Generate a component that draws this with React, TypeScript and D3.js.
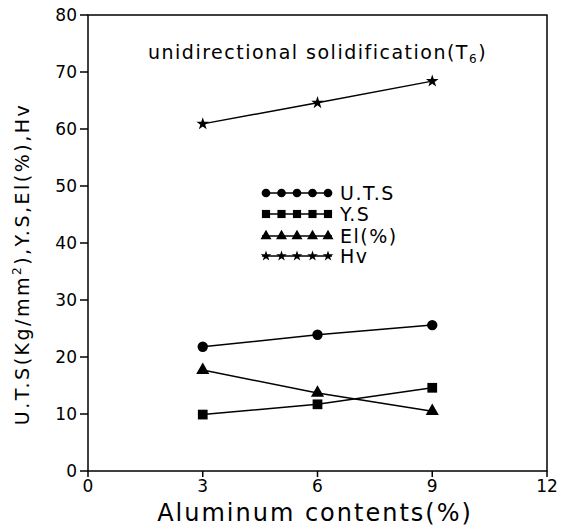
import * as d3 from "d3";

const aluminum = [3, 6, 9];
const uts = [21.8, 23.9, 25.6];
const ys = [9.9, 11.7, 14.6];
const el = [17.7, 13.7, 10.5];
const hv = [60.9, 64.6, 68.4];

const xTicks = [0, 3, 6, 9, 12];
const yTicks = [0, 10, 20, 30, 40, 50, 60, 70, 80];
const seriesNames = ["U.T.S", "Y.S", "El(%)", "Hv"];

type Series = { name: string; values: number[]; symbol: d3.SymbolType; size: number };

const series: Series[] = [
  { name: seriesNames[0], values: uts, symbol: d3.symbolCircle, size: 85 },
  { name: seriesNames[1], values: ys, symbol: d3.symbolSquare, size: 95 },
  { name: seriesNames[2], values: el, symbol: d3.symbolTriangle, size: 75 },
  { name: seriesNames[3], values: hv, symbol: d3.symbolStar, size: 50 },
];

const font = "'DejaVu Sans', sans-serif";

export default function App() {
  const width = 569;
  const height = 527;
  const margin = { top: 15, right: 22, bottom: 56, left: 88 };

  const x = d3.scaleLinear().domain([0, 12]).range([margin.left, width - margin.right]);
  const y = d3.scaleLinear().domain([0, 80]).range([height - margin.bottom, margin.top]);

  const line = d3
    .line<number>()
    .x((_, i) => x(aluminum[i]))
    .y((d) => y(d));

  const legendX0 = 262;
  const legendX1 = 332;
  const legendY = [193, 214, 236, 256];

  return (
    <svg width={width} height={height} style={{ position: "absolute", left: 0, top: 0 }}>
      <rect width={width} height={height} fill="#fff" />
      {/* frame */}
      <rect
        x={x(0)}
        y={y(80)}
        width={x(12) - x(0)}
        height={y(0) - y(80)}
        fill="none"
        stroke="#000"
        strokeWidth={1.5}
      />
      {/* y ticks */}
      {yTicks.map((t) => (
        <g key={"y" + t}>
          <line x1={x(0) - 8} x2={x(0)} y1={y(t)} y2={y(t)} stroke="#000" strokeWidth={1.5} />
          <text
            x={x(0) - 11}
            y={y(t)}
            dy="0.36em"
            textAnchor="end"
            fontFamily={font}
            fontSize={17}
          >
            {t}
          </text>
        </g>
      ))}
      {/* x ticks */}
      {xTicks.map((t) => (
        <g key={"x" + t}>
          <line x1={x(t)} x2={x(t)} y1={y(0)} y2={y(0) + 6} stroke="#000" strokeWidth={1.5} />
          <text x={x(t)} y={y(0) + 21} textAnchor="middle" fontFamily={font} fontSize={17}>
            {t}
          </text>
        </g>
      ))}
      {/* series */}
      {series.map((s) => (
        <g key={s.name}>
          <path d={line(s.values) ?? ""} fill="none" stroke="#000" strokeWidth={1.5} />
          {s.values.map((v, i) => (
            <path
              key={i}
              d={d3.symbol(s.symbol, s.size)() ?? ""}
              transform={`translate(${x(aluminum[i])},${y(v)})`}
              fill="#000"
            />
          ))}
        </g>
      ))}
      {/* legend */}
      {series.map((s, k) => (
        <g key={"lg" + s.name}>
          <line
            x1={legendX0}
            x2={legendX1}
            y1={legendY[k]}
            y2={legendY[k]}
            stroke="#000"
            strokeWidth={1.5}
          />
          {d3.range(5).map((j) => (
            <path
              key={j}
              d={d3.symbol(s.symbol, s.size * 0.7)() ?? ""}
              transform={`translate(${legendX0 + 4 + (j * (legendX1 - legendX0 - 8)) / 4},${legendY[k]})`}
              fill="#000"
            />
          ))}
          <text
            x={legendX1 + 8}
            y={legendY[k]}
            dy="0.36em"
            fontFamily={font}
            fontSize={19}
            letterSpacing={1.5}
          >
            {s.name}
          </text>
        </g>
      ))}
      {/* title */}
      <text x={148} y={59} fontFamily={font} fontSize={19} letterSpacing={1.5}>
        unidirectional solidification(T<tspan fontSize={12} dy={4}>6</tspan>
        <tspan dy={-4}>)</tspan>
      </text>
      {/* axis labels */}
      <text
        x={315}
        y={521}
        textAnchor="middle"
        fontFamily={font}
        fontSize={24}
        letterSpacing={2}
      >
        Aluminum contents(%)
      </text>
      <text
        transform={`translate(29,${264}) rotate(-90)`}
        textAnchor="middle"
        fontFamily={font}
        fontSize={19}
        letterSpacing={2.5}
      >
        U.T.S(Kg/mm<tspan fontSize={12} dy={-8}>2</tspan>
        <tspan dy={8}>),Y.S,El(%),Hv</tspan>
      </text>
    </svg>
  );
}
